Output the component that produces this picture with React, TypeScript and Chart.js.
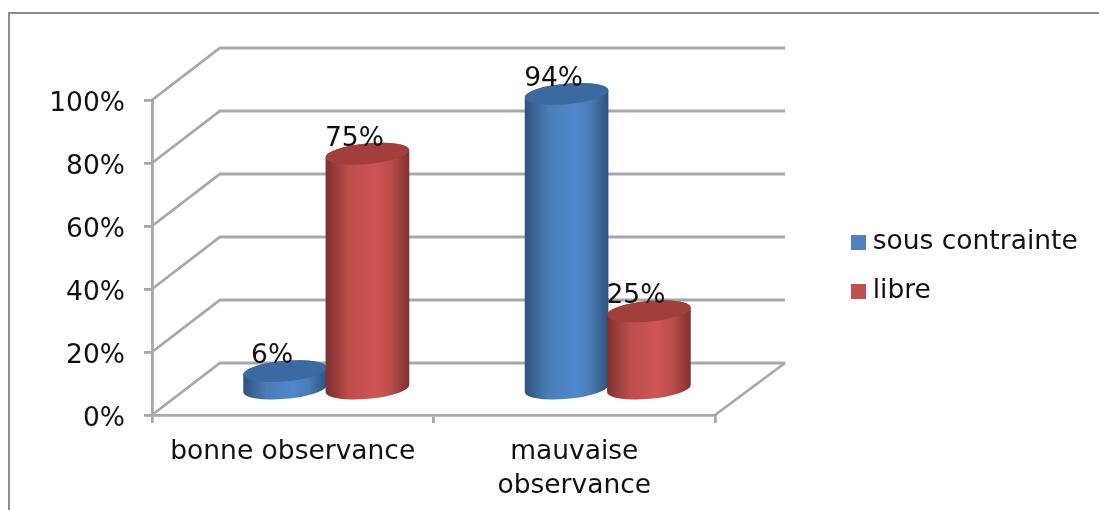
import React, { useEffect, useRef } from "react";
import { Chart, registerables } from "chart.js";

Chart.register(...registerables);

const categories: (string | string[])[] = ["bonne observance", ["mauvaise", "observance"]];
const sousContrainte = [0.06, 0.94];
const libre = [0.75, 0.25];
const seriesNames = ["sous contrainte", "libre"];
const seriesColors = ["#4a7cb6", "#bb4e4b"];
const legendColors = ["#4f81bd", "#c0504d"];
const sideDark = ["#2f527c", "#7e302e"];
const sideLight = ["#5088cc", "#cf5553"];
const capColors = ["#3a6a9f", "#a03f3c"];

const FONT = "'DejaVu Sans'";
const FONT_SIZE = 26.5;
const TEXT = "#111111";
const GRID = "#a8a8a8";
const DEPTH = { x: 68, y: -52 };
const BAR_SHIFT = { x: 33.5, y: -25 };
const ELLIPSE = { ry: 10.3, tilt: -0.09 };

const swatch = (color: string) => {
  const c = document.createElement("canvas");
  c.width = 15;
  c.height = 15;
  const g = c.getContext("2d")!;
  g.fillStyle = color;
  g.fillRect(0, 0, 15, 15);
  return c;
};

function drawCylinder(ctx: CanvasRenderingContext2D, cx: number, top: number, base: number, rx: number, d: number) {
  const { ry, tilt } = ELLIPSE;
  const grad = ctx.createLinearGradient(cx - rx, 0, cx + rx, 0);
  grad.addColorStop(0, sideDark[d]);
  grad.addColorStop(0.28, seriesColors[d]);
  grad.addColorStop(0.6, sideLight[d]);
  grad.addColorStop(0.78, seriesColors[d]);
  grad.addColorStop(1, sideDark[d]);
  ctx.save();
  ctx.filter = "blur(0.6px)";
  ctx.fillStyle = grad;
  ctx.beginPath();
  ctx.ellipse(cx, base, rx, ry, tilt, 0, Math.PI);
  ctx.ellipse(cx, top, rx, ry, tilt, Math.PI, Math.PI * 2);
  ctx.closePath();
  ctx.fill();
  ctx.fillStyle = capColors[d];
  ctx.beginPath();
  ctx.ellipse(cx, top, rx, ry, tilt, 0, Math.PI * 2);
  ctx.fill();
  ctx.restore();
}

const scene = {
  id: "scene3d",
  afterLayout(chart: any) {
    const l = chart.legend;
    const w = l.width;
    l.left = 835;
    l.right = l.left + w;
    l.top = 100 + 9.5;
    l.bottom = 415 + 9.5;
  },
  beforeDraw(chart: any) {
    const { ctx, width, height } = chart;
    ctx.save();
    ctx.strokeStyle = "#8c8c8c";
    ctx.lineWidth = 2;
    ctx.beginPath();
    ctx.moveTo(9, height);
    ctx.lineTo(9, 13);
    ctx.lineTo(width, 13);
    ctx.stroke();
    ctx.restore();
  },
  beforeDatasetsDraw(chart: any) {
    const { ctx, chartArea } = chart;
    const yScale = chart.scales.y;
    ctx.save();
    ctx.strokeStyle = GRID;
    ctx.lineWidth = 2.8;
    ctx.beginPath();
    for (const t of yScale.ticks) {
      const y = yScale.getPixelForValue(t.value);
      ctx.moveTo(chartArea.left, y);
      ctx.lineTo(chartArea.left + DEPTH.x, y + DEPTH.y);
      ctx.lineTo(chartArea.right + DEPTH.x + 2, y + DEPTH.y);
    }
    ctx.moveTo(chartArea.right, chartArea.bottom);
    ctx.lineTo(chartArea.right + DEPTH.x + 2, chartArea.bottom + DEPTH.y);
    ctx.stroke();
    ctx.restore();

    const count = chart.data.labels.length;
    for (let c = 0; c < count; c++) {
      chart.data.datasets.forEach((_: any, d: number) => {
        const bar = chart.getDatasetMeta(d).data[c];
        drawCylinder(ctx, bar.x + BAR_SHIFT.x, bar.y + BAR_SHIFT.y, bar.base + BAR_SHIFT.y, bar.width / 2, d);
      });
    }
    return false;
  },
  afterDraw(chart: any) {
    const { ctx } = chart;
    ctx.save();
    ctx.fillStyle = TEXT;
    ctx.font = `${FONT_SIZE}px ${FONT}`;
    ctx.textAlign = "center";
    ctx.textBaseline = "middle";
    chart.data.datasets.forEach((ds: any, d: number) => {
      chart.getDatasetMeta(d).data.forEach((bar: any, c: number) => {
        const text = `${Math.round(ds.data[c] * 100)}%`;
        ctx.fillText(text, bar.x + BAR_SHIFT.x - 13, bar.y + BAR_SHIFT.y - 15);
      });
    });
    ctx.restore();
  },
};

export default function App() {
  const ref = useRef<HTMLCanvasElement>(null);
  useEffect(() => {
    const chart = new Chart(ref.current!, {
      type: "bar",
      data: {
        labels: categories as any,
        datasets: [
          { label: seriesNames[0], data: sousContrainte, backgroundColor: legendColors[0] },
          { label: seriesNames[1], data: libre, backgroundColor: legendColors[1] },
        ],
      },
      options: {
        responsive: false,
        animation: false,
        events: [],
        layout: { padding: { top: 100, right: 384, left: 0, bottom: 0 } },
        datasets: { bar: { categoryPercentage: 0.585, barPercentage: 1.02 } },
        scales: {
          x: {
            afterFit: (s: any) => { s.height = 95; },
            grid: { drawOnChartArea: false, color: GRID, lineWidth: 2.8, tickLength: 8 },
            border: { color: GRID, width: 2.8 },
            ticks: { color: TEXT, font: { family: FONT, size: FONT_SIZE, lineHeight: 1.25 }, padding: 13, maxRotation: 0, autoSkip: false },
          },
          y: {
            min: 0,
            max: 1,
            afterFit: (s: any) => { s.width = 152; },
            grid: { drawOnChartArea: false, color: GRID, lineWidth: 2.8, tickLength: 8 },
            border: { color: GRID, width: 2.8 },
            ticks: {
              stepSize: 0.2,
              color: TEXT,
              padding: 19,
              labelOffset: 4.5,
              font: { family: FONT, size: FONT_SIZE },
              callback: (v: any) => `${Math.round(v * 100)}%`,
            },
          },
        },
        plugins: {
          tooltip: { enabled: false },
          legend: {
            position: "chartArea" as any,
            labels: {
              color: TEXT,
              font: { family: FONT, size: FONT_SIZE },
              padding: 22.5,
              boxHeight: 15,
              usePointStyle: true,
              pointStyleWidth: 2,
              generateLabels: (c: any) =>
                c.data.datasets.map((ds: any, i: number) => ({
                  text: ds.label,
                  fontColor: TEXT,
                  pointStyle: swatch(ds.backgroundColor),
                  datasetIndex: i,
                  lineWidth: 0,
                  fillStyle: ds.backgroundColor,
                  strokeStyle: ds.backgroundColor,
                })),
            },
          },
        },
      },
      plugins: [scene],
    } as any);
    return () => chart.destroy();
  }, []);
  return (
    <div style={{ position: "absolute", left: 0, top: 0, width: 1099, height: 510 }}>
      <canvas ref={ref} width={1099} height={510} style={{ display: "block" }} />
    </div>
  );
}
